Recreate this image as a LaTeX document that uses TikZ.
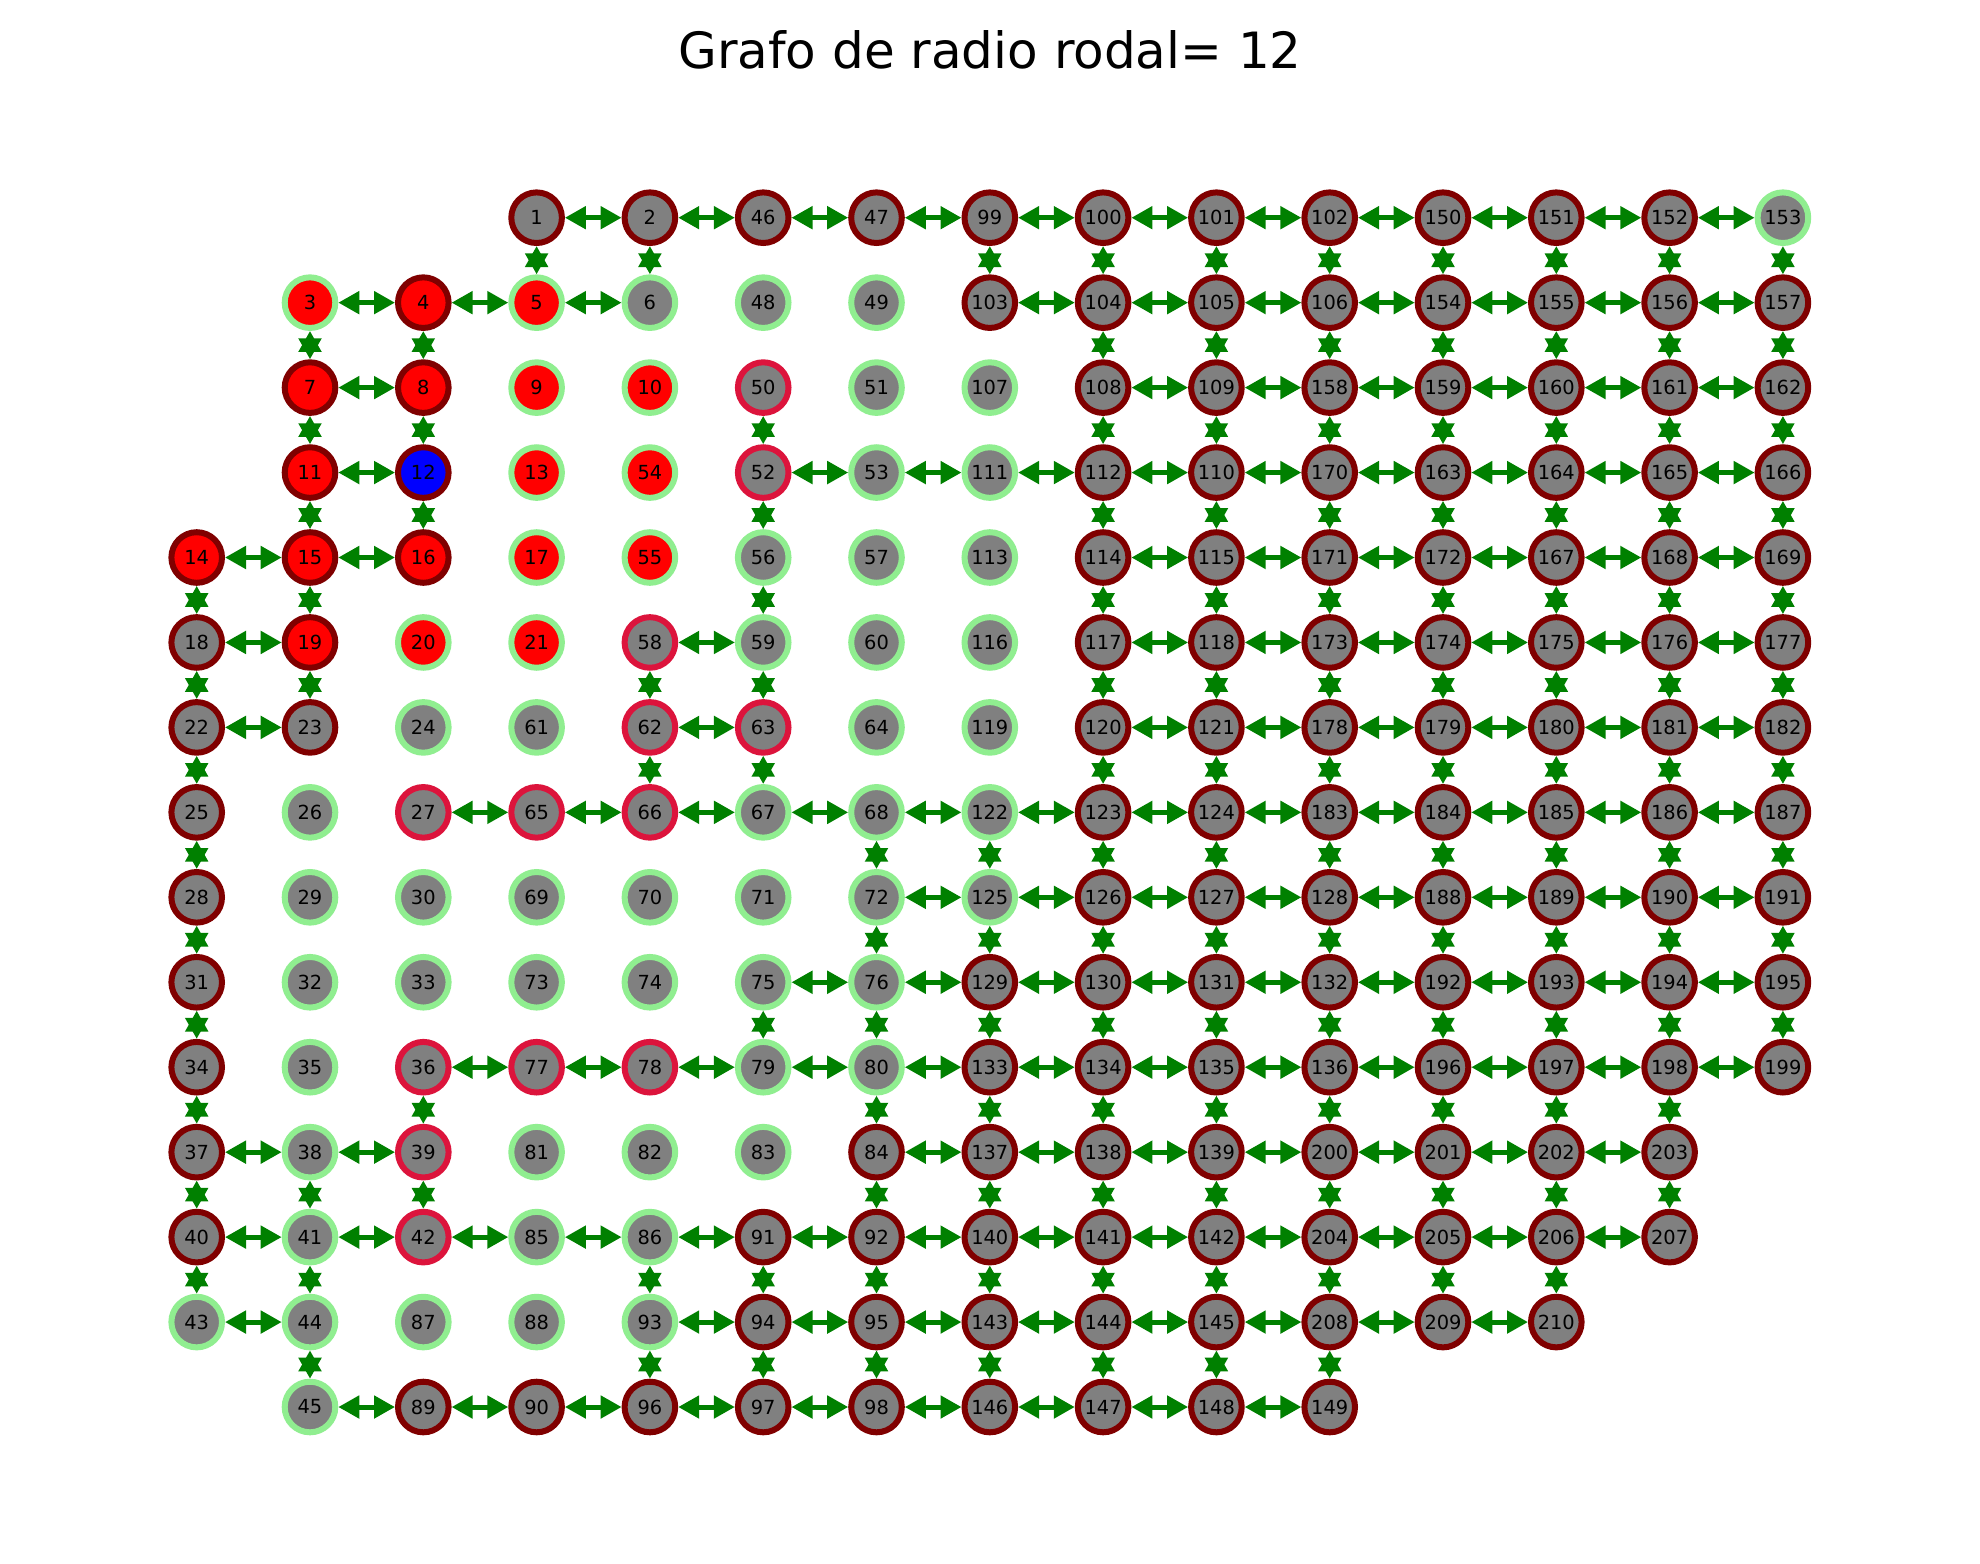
\documentclass[tikz,border=0pt]{standalone}
\usepackage{fontspec}
\setmainfont{DejaVu Sans}
\usetikzlibrary{arrows.meta}
\definecolor{mrn}{HTML}{800000}
\definecolor{lgr}{HTML}{90EE90}
\definecolor{crm}{HTML}{DC143C}
\definecolor{gry}{HTML}{808080}
\definecolor{rd}{HTML}{FF0000}
\definecolor{bl}{HTML}{0000FF}
\definecolor{grn}{HTML}{008000}
\newcommand\N[4]{\node[#4] (n#1) at ({196.7+113.3*#2},{217.7+84.95*#3}) {#1};}
\begin{document}
\begin{tikzpicture}[x=0.5pt,y=-0.5pt,
  nd/.style={circle,draw,line width=3pt,minimum size=25.3pt,inner sep=0pt,font=\fontsize{9.7}{11}\selectfont,text=black},
  mr/.style={nd,draw=mrn,fill=gry},
  gr/.style={nd,draw=lgr,fill=gry},
  cr/.style={nd,draw=crm,fill=gry},
  rg/.style={nd,draw=lgr,fill=rd},
  rm/.style={nd,draw=mrn,fill=rd},
  bm/.style={nd,draw=mrn,fill=bl},
  edge/.style={draw=grn,line width=2.5pt,{Triangle[length=10.5pt,width=11pt]}-{Triangle[length=10.5pt,width=11pt]}}]
\useasboundingbox[fill=white] (0,0) rectangle (1980,1563);
\node[font=\fontsize{25}{30}\selectfont,anchor=base] (title) at (990,68.3) {Grafo de radio rodal= 12};
% row 0
\N{1}{3}{0}{mr} \N{2}{4}{0}{mr} \N{46}{5}{0}{mr} \N{47}{6}{0}{mr} \N{99}{7}{0}{mr} \N{100}{8}{0}{mr} \N{101}{9}{0}{mr} \N{102}{10}{0}{mr} \N{150}{11}{0}{mr} \N{151}{12}{0}{mr} \N{152}{13}{0}{mr} \N{153}{14}{0}{gr}
% row 1
\N{3}{1}{1}{rg} \N{4}{2}{1}{rm} \N{5}{3}{1}{rg} \N{6}{4}{1}{gr} \N{48}{5}{1}{gr} \N{49}{6}{1}{gr} \N{103}{7}{1}{mr} \N{104}{8}{1}{mr} \N{105}{9}{1}{mr} \N{106}{10}{1}{mr} \N{154}{11}{1}{mr} \N{155}{12}{1}{mr} \N{156}{13}{1}{mr} \N{157}{14}{1}{mr}
% row 2
\N{7}{1}{2}{rm} \N{8}{2}{2}{rm} \N{9}{3}{2}{rg} \N{10}{4}{2}{rg} \N{50}{5}{2}{cr} \N{51}{6}{2}{gr} \N{107}{7}{2}{gr} \N{108}{8}{2}{mr} \N{109}{9}{2}{mr} \N{158}{10}{2}{mr} \N{159}{11}{2}{mr} \N{160}{12}{2}{mr} \N{161}{13}{2}{mr} \N{162}{14}{2}{mr}
% row 3
\N{11}{1}{3}{rm} \N{12}{2}{3}{bm} \N{13}{3}{3}{rg} \N{54}{4}{3}{rg} \N{52}{5}{3}{cr} \N{53}{6}{3}{gr} \N{111}{7}{3}{gr} \N{112}{8}{3}{mr} \N{110}{9}{3}{mr} \N{170}{10}{3}{mr} \N{163}{11}{3}{mr} \N{164}{12}{3}{mr} \N{165}{13}{3}{mr} \N{166}{14}{3}{mr}
% row 4
\N{14}{0}{4}{rm} \N{15}{1}{4}{rm} \N{16}{2}{4}{rm} \N{17}{3}{4}{rg} \N{55}{4}{4}{rg} \N{56}{5}{4}{gr} \N{57}{6}{4}{gr} \N{113}{7}{4}{gr} \N{114}{8}{4}{mr} \N{115}{9}{4}{mr} \N{171}{10}{4}{mr} \N{172}{11}{4}{mr} \N{167}{12}{4}{mr} \N{168}{13}{4}{mr} \N{169}{14}{4}{mr}
% row 5
\N{18}{0}{5}{mr} \N{19}{1}{5}{rm} \N{20}{2}{5}{rg} \N{21}{3}{5}{rg} \N{58}{4}{5}{cr} \N{59}{5}{5}{gr} \N{60}{6}{5}{gr} \N{116}{7}{5}{gr} \N{117}{8}{5}{mr} \N{118}{9}{5}{mr} \N{173}{10}{5}{mr} \N{174}{11}{5}{mr} \N{175}{12}{5}{mr} \N{176}{13}{5}{mr} \N{177}{14}{5}{mr}
% row 6
\N{22}{0}{6}{mr} \N{23}{1}{6}{mr} \N{24}{2}{6}{gr} \N{61}{3}{6}{gr} \N{62}{4}{6}{cr} \N{63}{5}{6}{cr} \N{64}{6}{6}{gr} \N{119}{7}{6}{gr} \N{120}{8}{6}{mr} \N{121}{9}{6}{mr} \N{178}{10}{6}{mr} \N{179}{11}{6}{mr} \N{180}{12}{6}{mr} \N{181}{13}{6}{mr} \N{182}{14}{6}{mr}
% row 7
\N{25}{0}{7}{mr} \N{26}{1}{7}{gr} \N{27}{2}{7}{cr} \N{65}{3}{7}{cr} \N{66}{4}{7}{cr} \N{67}{5}{7}{gr} \N{68}{6}{7}{gr} \N{122}{7}{7}{gr} \N{123}{8}{7}{mr} \N{124}{9}{7}{mr} \N{183}{10}{7}{mr} \N{184}{11}{7}{mr} \N{185}{12}{7}{mr} \N{186}{13}{7}{mr} \N{187}{14}{7}{mr}
% row 8
\N{28}{0}{8}{mr} \N{29}{1}{8}{gr} \N{30}{2}{8}{gr} \N{69}{3}{8}{gr} \N{70}{4}{8}{gr} \N{71}{5}{8}{gr} \N{72}{6}{8}{gr} \N{125}{7}{8}{gr} \N{126}{8}{8}{mr} \N{127}{9}{8}{mr} \N{128}{10}{8}{mr} \N{188}{11}{8}{mr} \N{189}{12}{8}{mr} \N{190}{13}{8}{mr} \N{191}{14}{8}{mr}
% row 9
\N{31}{0}{9}{mr} \N{32}{1}{9}{gr} \N{33}{2}{9}{gr} \N{73}{3}{9}{gr} \N{74}{4}{9}{gr} \N{75}{5}{9}{gr} \N{76}{6}{9}{gr} \N{129}{7}{9}{mr} \N{130}{8}{9}{mr} \N{131}{9}{9}{mr} \N{132}{10}{9}{mr} \N{192}{11}{9}{mr} \N{193}{12}{9}{mr} \N{194}{13}{9}{mr} \N{195}{14}{9}{mr}
% row 10
\N{34}{0}{10}{mr} \N{35}{1}{10}{gr} \N{36}{2}{10}{cr} \N{77}{3}{10}{cr} \N{78}{4}{10}{cr} \N{79}{5}{10}{gr} \N{80}{6}{10}{gr} \N{133}{7}{10}{mr} \N{134}{8}{10}{mr} \N{135}{9}{10}{mr} \N{136}{10}{10}{mr} \N{196}{11}{10}{mr} \N{197}{12}{10}{mr} \N{198}{13}{10}{mr} \N{199}{14}{10}{mr}
% row 11
\N{37}{0}{11}{mr} \N{38}{1}{11}{gr} \N{39}{2}{11}{cr} \N{81}{3}{11}{gr} \N{82}{4}{11}{gr} \N{83}{5}{11}{gr} \N{84}{6}{11}{mr} \N{137}{7}{11}{mr} \N{138}{8}{11}{mr} \N{139}{9}{11}{mr} \N{200}{10}{11}{mr} \N{201}{11}{11}{mr} \N{202}{12}{11}{mr} \N{203}{13}{11}{mr}
% row 12
\N{40}{0}{12}{mr} \N{41}{1}{12}{gr} \N{42}{2}{12}{cr} \N{85}{3}{12}{gr} \N{86}{4}{12}{gr} \N{91}{5}{12}{mr} \N{92}{6}{12}{mr} \N{140}{7}{12}{mr} \N{141}{8}{12}{mr} \N{142}{9}{12}{mr} \N{204}{10}{12}{mr} \N{205}{11}{12}{mr} \N{206}{12}{12}{mr} \N{207}{13}{12}{mr}
% row 13
\N{43}{0}{13}{gr} \N{44}{1}{13}{gr} \N{87}{2}{13}{gr} \N{88}{3}{13}{gr} \N{93}{4}{13}{gr} \N{94}{5}{13}{mr} \N{95}{6}{13}{mr} \N{143}{7}{13}{mr} \N{144}{8}{13}{mr} \N{145}{9}{13}{mr} \N{208}{10}{13}{mr} \N{209}{11}{13}{mr} \N{210}{12}{13}{mr}
% row 14
\N{45}{1}{14}{gr} \N{89}{2}{14}{mr} \N{90}{3}{14}{mr} \N{96}{4}{14}{mr} \N{97}{5}{14}{mr} \N{98}{6}{14}{mr} \N{146}{7}{14}{mr} \N{147}{8}{14}{mr} \N{148}{9}{14}{mr} \N{149}{10}{14}{mr}
% horizontal edges
\foreach \a/\b in {1/2,2/46,46/47,47/99,99/100,100/101,101/102,102/150,150/151,151/152,152/153,
 3/4,4/5,5/6,103/104,104/105,105/106,106/154,154/155,155/156,156/157,
 7/8,108/109,109/158,158/159,159/160,160/161,161/162,
 11/12,52/53,53/111,111/112,112/110,110/170,170/163,163/164,164/165,165/166,
 14/15,15/16,114/115,115/171,171/172,172/167,167/168,168/169,
 18/19,58/59,117/118,118/173,173/174,174/175,175/176,176/177,
 22/23,62/63,120/121,121/178,178/179,179/180,180/181,181/182,
 27/65,65/66,66/67,67/68,68/122,122/123,123/124,124/183,183/184,184/185,185/186,186/187,
 72/125,125/126,126/127,127/128,128/188,188/189,189/190,190/191,
 75/76,76/129,129/130,130/131,131/132,132/192,192/193,193/194,194/195,
 36/77,77/78,78/79,79/80,80/133,133/134,134/135,135/136,136/196,196/197,197/198,198/199,
 37/38,38/39,84/137,137/138,138/139,139/200,200/201,201/202,202/203,
 40/41,41/42,42/85,85/86,86/91,91/92,92/140,140/141,141/142,142/204,204/205,205/206,206/207,
 43/44,93/94,94/95,95/143,143/144,144/145,145/208,208/209,209/210,
 45/89,89/90,90/96,96/97,97/98,98/146,146/147,147/148,148/149}
 {\draw[edge] (n\a) -- (n\b);}
% vertical edges
\foreach \a/\b in {1/5,2/6,99/103,100/104,101/105,102/106,150/154,151/155,152/156,153/157,
 3/7,4/8,104/108,105/109,106/158,154/159,155/160,156/161,157/162,
 7/11,8/12,50/52,108/112,109/110,158/170,159/163,160/164,161/165,162/166,
 11/15,12/16,52/56,112/114,110/115,170/171,163/172,164/167,165/168,166/169,
 14/18,15/19,56/59,114/117,115/118,171/173,172/174,167/175,168/176,169/177,
 18/22,19/23,58/62,59/63,117/120,118/121,173/178,174/179,175/180,176/181,177/182,
 22/25,62/66,63/67,120/123,121/124,178/183,179/184,180/185,181/186,182/187,
 25/28,68/72,122/125,123/126,124/127,183/128,184/188,185/189,186/190,187/191,
 28/31,72/76,125/129,126/130,127/131,128/132,188/192,189/193,190/194,191/195,
 31/34,75/79,76/80,129/133,130/134,131/135,132/136,192/196,193/197,194/198,195/199,
 34/37,36/39,80/84,133/137,134/138,135/139,136/200,196/201,197/202,198/203,
 37/40,38/41,39/42,84/92,137/140,138/141,139/142,200/204,201/205,202/206,203/207,
 40/43,41/44,86/93,91/94,92/95,140/143,141/144,142/145,204/208,205/209,206/210,
 44/45,93/96,94/97,95/98,143/146,144/147,145/148,208/149}
 {\draw[edge] (n\a) -- (n\b);}
\end{tikzpicture}
\end{document}
